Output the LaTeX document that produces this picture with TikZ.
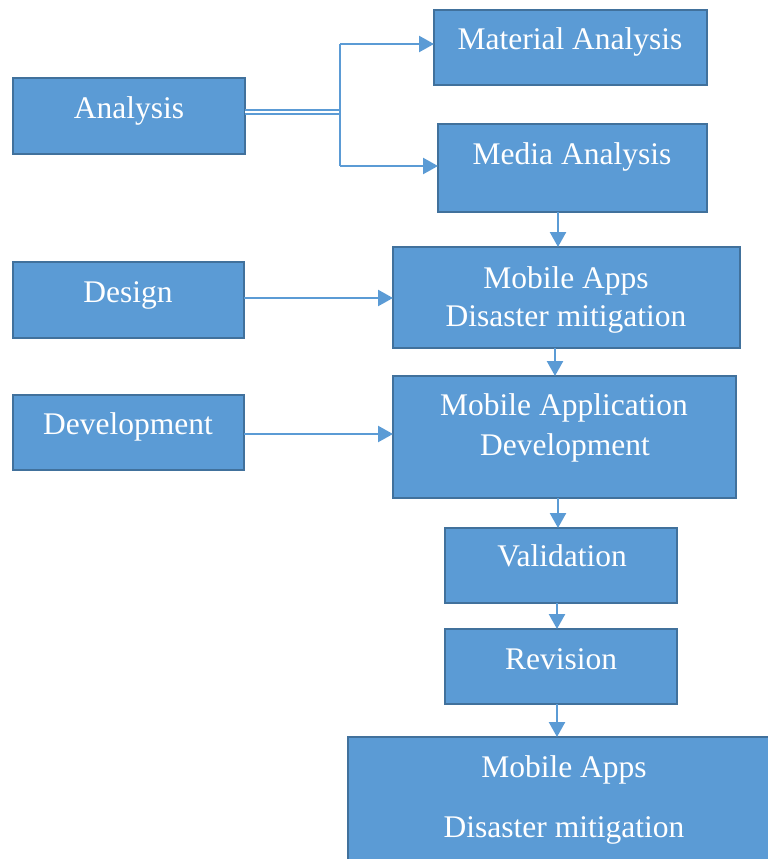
\documentclass[tikz,border=0pt]{standalone}
\usepackage{fontspec}
\setmainfont{Liberation Serif}
\usetikzlibrary{arrows.meta}
\definecolor{boxfill}{HTML}{5B9BD5}
\definecolor{boxline}{HTML}{41719C}
\tikzset{
  box/.style={draw=boxline, fill=boxfill, line width=2pt, rectangle, inner sep=0pt, outer sep=0pt},
  lbl/.style={text=white, font=\fontsize{31.5}{38}\selectfont, inner sep=0pt, anchor=base},
  conn/.style={draw=boxfill, line width=2.4pt, -{Triangle[length=15pt,width=16pt]}},
  plain/.style={draw=boxfill, line width=2.4pt},
}
\begin{document}
\begin{tikzpicture}[x=1pt,y=-1pt]
\clip (0,0) rectangle (768,859);
\fill[white] (0,0) rectangle (768,859);
% boxes
\node[box, minimum width=232, minimum height=76] (analysis) at (129,116) {};
\node[box, minimum width=273, minimum height=75] (material) at (570.5,47.5) {};
\node[box, minimum width=269, minimum height=88] (media) at (572.5,168) {};
\node[box, minimum width=347, minimum height=101] (apps) at (566.5,297.5) {};
\node[box, minimum width=231, minimum height=76] (design) at (128.5,300) {};
\node[box, minimum width=231, minimum height=75] (devel) at (128.5,432.5) {};
\node[box, minimum width=343, minimum height=122] (mad) at (564.5,437) {};
\node[box, minimum width=232, minimum height=75] (valid) at (561,565.5) {};
\node[box, minimum width=232, minimum height=75] (revis) at (561,666.5) {};
\node[box, minimum width=450, minimum height=150] (final) at (573,812) {};
% labels
\node[lbl] (tAnalysis) at (129,118) {Analysis};
\node[lbl] (tMaterial) at (570,50) {Material Analysis};
\node[lbl] (tMedia) at (572,164) {Media Analysis};
\node[lbl] (tApps1) at (566,288) {Mobile Apps};
\node[lbl] (tApps2) at (566,326) {Disaster mitigation};
\node[lbl] (tDesign) at (128,302) {Design};
\node[lbl] (tDevel) at (128,434) {Development};
\node[lbl] (tMad1) at (564,415) {Mobile Application};
\node[lbl] (tMad2) at (565,455) {Development};
\node[lbl] (tValid) at (562,566) {Validation};
\node[lbl] (tRevis) at (561,669) {Revision};
\node[lbl] (tFinal1) at (564,777) {Mobile Apps};
\node[lbl] (tFinal2) at (564,837) {Disaster mitigation};
% connectors
\coordinate (j) at (340,112);
\draw[draw=boxfill, line width=1.8pt, double=white, double distance=2.4pt] (analysis.east |- j) -- (j);
\draw[plain] (340,44) -- (340,166);
\draw[conn] (340,44) -- (material.west |- 340,44);
\draw[conn] (340,166) -- (media.west |- 340,166);
\draw[conn] (media.south -| 558,0) -- (apps.north -| 558,0);
\draw[conn] (design.east |- 0,298) -- (apps.west |- 0,298);
\draw[conn] (apps.south -| 555,0) -- (mad.north -| 555,0);
\draw[conn] (devel.east |- 0,434) -- (mad.west |- 0,434);
\draw[conn] (mad.south -| 558,0) -- (valid.north -| 558,0);
\draw[conn] (valid.south -| 557,0) -- (revis.north -| 557,0);
\draw[conn] (revis.south -| 557,0) -- (final.north -| 557,0);
\end{tikzpicture}
\end{document}
